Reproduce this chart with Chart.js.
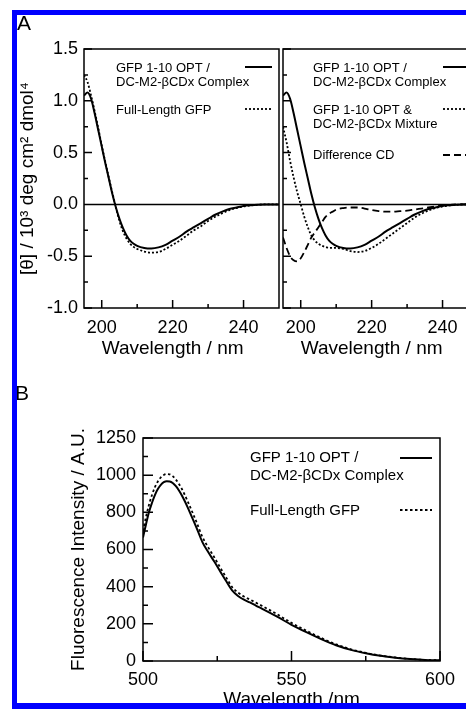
<!DOCTYPE html>
<html><head><meta charset="utf-8">
<script src="https://cdn.jsdelivr.net/npm/chart.js@4"></script>
<style>
html,body{margin:0;padding:0;background:#fff;overflow:hidden;width:466px;height:709px;}
#wrap{position:relative;width:466px;height:709px;overflow:hidden;}
canvas{position:absolute;}
.blue{position:absolute;background:#0000ff;z-index:5;}
.lbl{position:absolute;font-family:'Liberation Sans',Arial,sans-serif;font-size:21px;line-height:21px;color:#000;z-index:3}
</style></head><body>
<div id="wrap">
<canvas id="cA1" width="290" height="370" style="left:0;top:0"></canvas>
<canvas id="cA2" width="210" height="370" style="left:270px;top:0"></canvas>
<canvas id="cB" width="466" height="340" style="left:0;top:380px"></canvas>
<div class="lbl" style="left:17px;top:12px">A</div>
<div class="lbl" style="left:15px;top:382px">B</div>
<div class="blue" style="left:12px;top:10px;width:454px;height:5px"></div>
<div class="blue" style="left:12px;top:10px;width:5px;height:699px"></div>
<div class="blue" style="left:12px;top:703px;width:454px;height:6px"></div>
</div>
<script>
const FONT = "'Liberation Sans', Arial, Helvetica, sans-serif";
Chart.defaults.font.family = FONT;
Chart.defaults.color = '#000';

// ---------- Panel A (CD spectra) ----------
const wavelengthA = [195,196,197,198,199,200,201,202,203,204,205,206,207,208,209,210,
  212,214,216,218,220,222,224,226,228,230,232,234,236,238,240,242,244,246,248,250];
const complexA = [1.05,1.08,1.02,0.88,0.72,0.56,0.40,0.25,0.10,-0.03,-0.14,-0.23,-0.30,-0.35,-0.38,-0.40,
  -0.42,-0.425,-0.415,-0.39,-0.35,-0.31,-0.26,-0.22,-0.18,-0.14,-0.10,-0.07,-0.045,-0.03,-0.015,-0.008,-0.003,0,0,0];
const fullLengthA = [1.25,1.18,1.05,0.90,0.74,0.57,0.41,0.26,0.11,-0.03,-0.16,-0.26,-0.33,-0.38,-0.41,-0.43,
  -0.455,-0.465,-0.46,-0.43,-0.39,-0.35,-0.30,-0.25,-0.21,-0.16,-0.12,-0.085,-0.055,-0.035,-0.02,-0.01,-0.004,0,0,0];
const mixtureA = [0.75,0.60,0.42,0.26,0.12,0.0,-0.12,-0.22,-0.30,-0.35,-0.38,-0.40,-0.41,-0.42,-0.42,-0.42,
  -0.43,-0.45,-0.46,-0.45,-0.42,-0.38,-0.33,-0.28,-0.23,-0.18,-0.13,-0.09,-0.06,-0.035,-0.02,-0.01,-0.004,0,0,0];
const differenceA = [-0.32,-0.42,-0.50,-0.54,-0.55,-0.52,-0.46,-0.39,-0.32,-0.27,-0.22,-0.17,-0.12,-0.09,-0.07,-0.05,
  -0.035,-0.03,-0.03,-0.04,-0.055,-0.065,-0.07,-0.07,-0.065,-0.06,-0.05,-0.04,-0.03,-0.02,-0.01,-0.005,0,0,0,0];
const xTicksA = [200,220,240];
const xMinorA = [210,230];
const yTicksA = [-1.0,-0.5,0,0.5,1.0,1.5];
const yMinorA = [-0.75,-0.25,0.25,0.75,1.25];
const namesA1 = [['GFP 1-10 OPT /','DC-M2-βCDx Complex'],['Full-Length GFP']];
const namesA2 = [['GFP 1-10 OPT /','DC-M2-βCDx Complex'],['GFP 1-10 OPT &','DC-M2-βCDx Mixture'],['Difference CD']];

// ---------- Panel B (fluorescence) ----------
const wavelengthB = [500,501,502,503,504,505,506,507,508,509,510,511,512,513,514,515,516,
  518,520,522,524,526,528,530,532,534,536,538,540,
  545,550,555,560,565,570,575,580,585,590,595,600];
const complexB = [665,735,800,850,893,925,948,962,967,966,958,942,920,893,862,828,792,
  718,640,585,535,482,430,380,350,330,315,298,282,
  240,195,155,118,85,60,42,28,18,11,6,4];
const fullLengthB = [700,775,840,892,935,966,988,1001,1006,1004,995,978,955,928,896,861,824,
  748,668,610,558,503,450,398,368,347,331,314,297,
  253,205,163,124,90,63,44,29,19,11,6,4];
const xTicksB = [500,550,600];
const xMinorB = [525,575];
const yTicksB = [0,200,400,600,800,1000,1200];
const yTickLabelsB = ['0','200','400','600','800','1000','1250'];
const yMinorB = [100,300,500,700,900,1100];
const namesB = [['GFP 1-10 OPT /','DC-M2-βCDx Complex'],['Full-Length GFP']];

function series(xArr, yArr, names, style) {
  return Object.assign({
    label: names.join(' '), legendLines: names,
    data: xArr.map((x, i) => ({x: x, y: yArr[i]})),
    borderColor: '#000', backgroundColor: '#000', borderWidth: 2,
    pointRadius: 0, fill: false, cubicInterpolationMode: 'monotone'
  }, style || {});
}

const decor = {
  id: 'decor',
  afterDatasetsDraw(chart, args, o) {
    const ctx = chart.ctx, a = chart.chartArea;
    const xs = chart.scales.x, ys = chart.scales.y;
    ctx.save();
    ctx.strokeStyle = '#000';
    ctx.setLineDash([]);
    ctx.lineWidth = o.lw;
    ctx.beginPath();
    if (o.zero) { const y0 = ys.getPixelForValue(0); ctx.moveTo(a.left, y0); ctx.lineTo(a.right, y0); }
    o.xMajor.forEach(v => { const p = xs.getPixelForValue(v); ctx.moveTo(p, a.bottom); ctx.lineTo(p, a.bottom - o.major); });
    o.xMinor.forEach(v => { const p = xs.getPixelForValue(v); ctx.moveTo(p, a.bottom); ctx.lineTo(p, a.bottom - o.minor); });
    o.yMajor.forEach(v => { const p = ys.getPixelForValue(v); ctx.moveTo(a.left, p); ctx.lineTo(a.left + o.major, p); });
    o.yMinor.forEach(v => { const p = ys.getPixelForValue(v); ctx.moveTo(a.left, p); ctx.lineTo(a.left + o.minor, p); });
    ctx.stroke();
    ctx.strokeRect(a.left, a.top, a.right - a.left, a.bottom - a.top);
    const L = o.legend;
    ctx.font = L.size + 'px ' + FONT;
    ctx.fillStyle = '#000';
    ctx.textBaseline = 'middle';
    ctx.textAlign = 'left';
    chart.data.datasets.forEach((ds, i) => {
      const row = L.rows[i];
      ds.legendLines.forEach((t, j) => ctx.fillText(t, L.textX, row.y + j * L.lineGap));
      ctx.beginPath();
      ctx.lineWidth = ds.borderWidth;
      ctx.setLineDash(ds.borderDash || []);
      ctx.moveTo(L.x1, row.sy); ctx.lineTo(L.x2, row.sy);
      ctx.stroke();
    });
    ctx.setLineDash([]);
    if (o.xTitle) {
      ctx.font = o.xTitle.size + 'px ' + FONT;
      ctx.textAlign = 'center';
      ctx.fillText(o.xTitle.text, xs.getPixelForValue(o.xTitle.at), o.xTitle.y);
    }
    ctx.restore();
  }
};

const noGrid = {display: false, drawTicks: false};
const noBorder = {display: false};

// Panel A, left
new Chart(document.getElementById('cA1'), {
  type: 'line',
  data: {datasets: [
    series(wavelengthA, complexA, namesA1[0]),
    series(wavelengthA, fullLengthA, namesA1[1], {borderDash: [2, 2], borderWidth: 1.8})
  ]},
  options: {
    responsive: false, animation: false, events: [],
    layout: {padding: {top: 49, right: 11, left: 0, bottom: 0}},
    plugins: {legend: {display: false}, tooltip: {enabled: false},
      decor: {lw: 1.5, zero: true, major: 8, minor: 4,
        xMajor: xTicksA, xMinor: xMinorA, yMajor: yTicksA, yMinor: yMinorA,
        legend: {size: 13, textX: 116, lineGap: 14.5, x1: 245, x2: 272, rows: [{y: 68, sy: 67}, {y: 110, sy: 109}]},
        xTitle: {text: 'Wavelength / nm', size: 19, at: 220, y: 349}}},
    scales: {
      x: {type: 'linear', min: 195, max: 250, grid: noGrid, border: noBorder,
        afterBuildTicks: s => { s.ticks = xTicksA.map(v => ({value: v})); },
        afterFit: s => { s.height = 62; },
        ticks: {font: {size: 18}, padding: 9, maxRotation: 0, autoSkip: false, callback: v => String(v)}},
      y: {type: 'linear', min: -1, max: 1.5, grid: noGrid, border: noBorder,
        afterBuildTicks: s => { s.ticks = yTicksA.map(v => ({value: v})); },
        afterFit: s => { s.width = 84; },
        ticks: {font: {size: 18}, padding: 6, autoSkip: false, callback: v => Number(v).toFixed(1)},
        title: {display: true, text: '[θ] / 10³ deg cm² dmol⁴', font: {size: 19}, padding: {top: 16, bottom: 0}}}
    }
  },
  plugins: [decor]
});

// Panel A, right
new Chart(document.getElementById('cA2'), {
  type: 'line',
  data: {datasets: [
    series(wavelengthA, complexA, namesA2[0]),
    series(wavelengthA, mixtureA, namesA2[1], {borderDash: [2, 2], borderWidth: 1.8}),
    series(wavelengthA, differenceA, namesA2[2], {borderDash: [7, 4], borderWidth: 1.8})
  ]},
  options: {
    responsive: false, animation: false, events: [],
    layout: {padding: {top: 49, right: 2, left: 13, bottom: 0}},
    plugins: {legend: {display: false}, tooltip: {enabled: false},
      decor: {lw: 1.5, zero: true, major: 8, minor: 4,
        xMajor: xTicksA, xMinor: xMinorA, yMajor: yTicksA, yMinor: yMinorA,
        legend: {size: 13, textX: 43, lineGap: 14.5, x1: 173, x2: 201,
          rows: [{y: 68, sy: 67}, {y: 110, sy: 109}, {y: 155, sy: 155}]},
        xTitle: {text: 'Wavelength / nm', size: 19, at: 220, y: 349}}},
    scales: {
      x: {type: 'linear', min: 195, max: 250, grid: noGrid, border: noBorder,
        afterBuildTicks: s => { s.ticks = xTicksA.map(v => ({value: v})); },
        afterFit: s => { s.height = 62; },
        ticks: {font: {size: 18}, padding: 9, maxRotation: 0, autoSkip: false, callback: v => String(v)}},
      y: {type: 'linear', display: false, min: -1, max: 1.5}
    }
  },
  plugins: [decor]
});

// Panel B
new Chart(document.getElementById('cB'), {
  type: 'line',
  data: {datasets: [
    series(wavelengthB, complexB, namesB[0]),
    series(wavelengthB, fullLengthB, namesB[1], {borderDash: [2.5, 2.5], borderWidth: 1.8})
  ]},
  options: {
    responsive: false, animation: false, events: [],
    layout: {padding: {top: 58, right: 26, left: 0, bottom: 0}},
    plugins: {legend: {display: false}, tooltip: {enabled: false},
      decor: {lw: 1.5, zero: false, major: 10, minor: 5,
        xMajor: xTicksB, xMinor: xMinorB, yMajor: yTicksB, yMinor: yMinorB,
        legend: {size: 15, textX: 250, lineGap: 18, x1: 400, x2: 432, rows: [{y: 78, sy: 78}, {y: 131, sy: 130}]}}},
    scales: {
      x: {type: 'linear', min: 500, max: 600, grid: noGrid, border: noBorder,
        afterBuildTicks: s => { s.ticks = xTicksB.map(v => ({value: v})); },
        afterFit: s => { s.height = 59; },
        ticks: {font: {size: 18}, padding: 8, maxRotation: 0, autoSkip: false, callback: v => String(v)},
        title: {display: true, text: 'Wavelength /nm', font: {size: 19}, padding: {top: 0, bottom: 9}}},
      y: {type: 'linear', min: 0, max: 1200, grid: noGrid, border: noBorder,
        afterBuildTicks: s => { s.ticks = yTicksB.map(v => ({value: v})); },
        afterFit: s => { s.width = 143; },
        ticks: {font: {size: 18}, padding: 7, autoSkip: false,
          callback: (v, i) => yTickLabelsB[yTicksB.indexOf(v)]},
        title: {display: true, text: 'Fluorescence Intensity / A.U.', font: {size: 19}, padding: {top: 67, bottom: 0}}}
    }
  },
  plugins: [decor]
});
</script>
</body></html>
